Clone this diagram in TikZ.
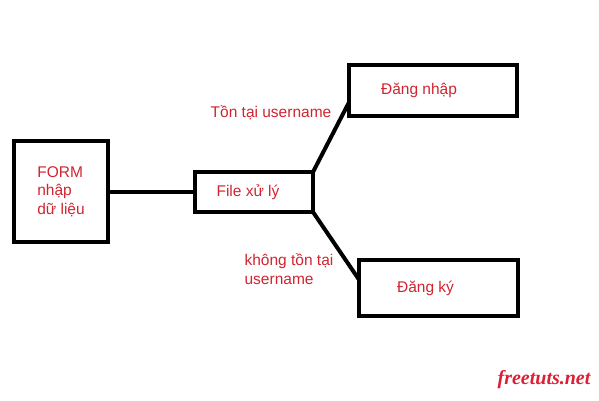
\documentclass[tikz,border=0pt]{standalone}
\usepackage{fontspec}
\setmainfont{Liberation Sans}
\newfontfamily\logofont{Liberation Serif}
\usepackage{tikz}

\definecolor{labelred}{RGB}{208,36,48}
\definecolor{logored}{RGB}{222,30,52}

\begin{document}
\begin{tikzpicture}[x=1pt,y=-1pt,
		boxnode/.style={draw=black,line width=4pt,outer sep=0pt,inner sep=0pt,text=labelred,font=\fontsize{15.5}{18.5}\selectfont},
		linkline/.style={color=black,line width=4pt},
		textlabel/.style={color=labelred,font=\fontsize{15.5}{18.5}\selectfont,inner sep=0pt}]

		\useasboundingbox (0,0) rectangle (599,400);

		%------------------------------------------------------
		\node[boxnode,minimum width=94pt,minimum height=101pt,align=left] (form) at (61,191.5) {FORM\\nhập\\dữ liệu};
		\node[boxnode,minimum width=118pt,minimum height=40pt] (file) at (254,192) {\hspace*{-12pt}File xử lý};
		%------------------------------------------------------


		%------------------------------------------------------
		\node[boxnode,minimum width=168pt,minimum height=51pt] (dangnhap) at (433,90.5) {\hspace*{-28pt}Đăng nhập};
		\node[boxnode,minimum width=159pt,minimum height=56pt] (dangky) at (438.5,288) {\hspace*{-26pt}Đăng ký};
		%------------------------------------------------------


		%------------------------------------------------------
		\draw[linkline] (form.east) -- (form.east -| file.west);
		\draw[linkline] (file.north east) -- (dangnhap.188);
		\draw[linkline] (file.south east) -- (dangky.174);

		\node[textlabel] (lbltontai) at (271,113) {Tồn tại username};
		\node[textlabel,align=left] (lblkhong) at (289,269) {không tồn tại\\username};
		%------------------------------------------------------

		\node[color=logored,font=\logofont\bfseries\itshape\fontsize{20}{24}\selectfont,inner sep=0pt] (logo) at (544,380) {freetuts.net};

	\end{tikzpicture}
\end{document}
